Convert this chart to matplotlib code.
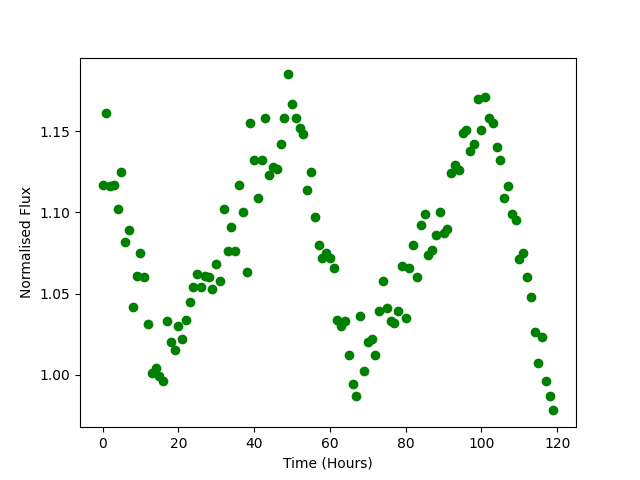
import matplotlib
matplotlib.use("Agg")
import matplotlib.pyplot as plt
import numpy as np

# waktu dalam jam, satu titik tiap jam
time_hours = np.arange(120)

# fluks ternormalisasi
flux = [1.117, 1.161, 1.116, 1.117, 1.102, 1.125, 1.082, 1.089, 1.042, 1.061,
        1.075, 1.060, 1.031, 1.001, 1.004, 0.999, 0.996, 1.033, 1.020, 1.015,
        1.030, 1.022, 1.034, 1.045, 1.054, 1.062, 1.054, 1.061, 1.060, 1.053,
        1.068, 1.058, 1.102, 1.076, 1.091, 1.076, 1.117, 1.100, 1.063, 1.155,
        1.132, 1.109, 1.132, 1.158, 1.123, 1.128, 1.127, 1.142, 1.158, 1.185,
        1.167, 1.158, 1.152, 1.148, 1.114, 1.125, 1.097, 1.080, 1.072, 1.075,
        1.072, 1.066, 1.034, 1.030, 1.033, 1.012, 0.994, 0.987, 1.036, 1.002,
        1.020, 1.022, 1.012, 1.039, 1.058, 1.041, 1.033, 1.032, 1.039, 1.067,
        1.035, 1.066, 1.080, 1.060, 1.092, 1.099, 1.074, 1.077, 1.086, 1.100,
        1.087, 1.090, 1.124, 1.129, 1.126, 1.149, 1.151, 1.138, 1.142, 1.170,
        1.151, 1.171, 1.158, 1.155, 1.140, 1.132, 1.109, 1.116, 1.099, 1.095,
        1.071, 1.075, 1.060, 1.048, 1.026, 1.007, 1.023, 0.996, 0.987, 0.978]

fig, ax = plt.subplots(figsize=(6.4, 4.8), dpi=100)
ax.plot(time_hours, flux, 'o', color='green')
ax.set_xlabel("Time (Hours)")
ax.set_ylabel("Normalised Flux")
fig.savefig("out.png")
